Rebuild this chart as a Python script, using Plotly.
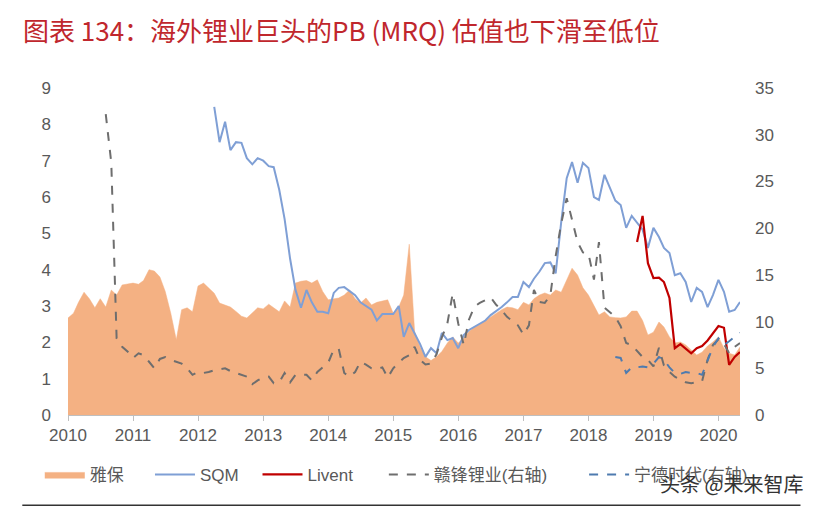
import pandas as pd
import plotly.graph_objects as go

# ---- data (monthly, PB MRQ) ----
months = pd.date_range("2010-01-01", periods=125, freq="MS")

albemarle = [2.67, 2.8, 3.1, 3.38, 3.2, 2.95, 3.2, 2.97, 3.44, 3.3, 3.58, 3.6,
             3.63, 3.6, 3.7, 4.0, 3.96, 3.8, 3.4, 2.8, 2.07, 2.9, 2.95, 2.84,
             3.55, 3.63, 3.5, 3.35, 3.08, 3.02, 2.97, 2.85, 2.72, 2.67, 2.8, 2.95,
             2.92, 3.05, 2.95, 2.84, 3.14, 2.97, 3.63, 3.68, 3.7, 3.63, 3.72, 3.4,
             3.17, 3.2, 3.22, 3.3, 3.44, 3.2, 3.08, 3.22, 3.03, 3.1, 3.14, 3.17,
             2.8, 2.97, 3.3, 4.7, 2.3, 1.87, 1.6, 1.5, 1.6, 1.75, 1.98, 2.15,
             1.98, 2.12, 2.3, 2.42, 2.5, 2.6, 2.7, 2.8, 2.9, 2.97, 2.95, 2.9,
             3.1, 3.03, 3.2, 3.3, 3.36, 3.3, 3.44, 3.38, 3.7, 4.04, 3.85, 3.5,
             3.3, 3.03, 2.75, 2.84, 2.7, 2.68, 2.67, 2.7, 2.86, 2.86, 2.6, 2.2,
             2.28, 2.56, 2.42, 2.15, 1.98, 2.01, 1.93, 1.79, 1.65, 1.73, 1.9, 2.01,
             2.15, 1.84, 1.7, 1.65, 1.87]

sqm_start = 27
sqm = [8.48, 7.51, 8.07, 7.29, 7.51, 7.49, 7.07, 6.9, 7.07,
       7.0, 6.85, 6.82, 6.2, 5.4, 4.3, 3.45, 2.95, 3.44, 3.1, 2.84, 2.84,
       2.8, 3.36, 3.5, 3.52, 3.42, 3.3, 3.1, 3.0, 2.9, 2.6, 2.78, 2.78,
       2.78, 3.0, 2.15, 2.53, 2.25, 1.95, 1.6, 1.84, 1.7, 2.26, 2.06, 2.12,
       1.84, 2.2, 2.34, 2.42, 2.5, 2.6, 2.75, 2.85, 2.97, 3.1, 3.25, 3.25,
       3.66, 3.52, 3.75, 3.95, 4.18, 4.2, 3.9, 5.3, 6.52, 6.96, 6.39, 6.94,
       6.8, 6.0, 5.92, 6.61, 6.25, 5.9, 5.78, 5.15, 5.48, 5.28, 5.1, 4.6,
       5.15, 4.9, 4.6, 4.46, 3.85, 3.9, 3.66, 3.11, 3.5, 3.39, 2.97, 3.3,
       3.72, 3.39, 2.84, 2.89, 3.11]

livent_start = 105
livent = [4.76, 5.48, 4.18,
          3.77, 3.78, 3.66, 3.22, 1.84, 1.95, 1.82, 1.7, 1.84, 1.9, 2.05, 2.25,
          2.45, 2.4, 1.38, 1.6, 1.73]

ganfeng_start = 7
ganfeng = [32.2, 27.0, 8.2, 7.3, 6.8,
           6.1, 6.6, 6.4, 5.7, 5.0, 6.0, 6.2, 5.9, 5.7, 5.5, 5.0, 4.3,
           4.6, 4.5, 4.6, 4.8, 4.9, 5.0, 4.7, 4.5, 4.3, 4.1, 3.3, 3.7,
           4.0, 4.1, 3.4, 3.5, 4.5, 3.5, 4.3, 4.3, 4.3, 3.7, 4.6, 5.1,
           5.6, 7.0, 7.1, 4.5, 4.1, 4.6, 5.7, 5.4, 5.0, 4.9, 5.1, 4.0,
           5.0, 5.6, 6.1, 6.4, 7.3, 5.9, 5.4, 5.5, 6.5, 8.3, 9.8, 13.0,
           9.8, 7.5, 10.2, 11.6, 12.0, 12.3, 12.6, 11.8, 11.2, 10.5, 10.0, 9.6,
           8.6, 9.6, 13.4, 12.1, 12.0, 12.8, 17.0, 20.5, 23.2, 21.0, 18.5, 17.4,
           17.3, 14.5, 18.5, 11.5, 11.0, 10.5, 9.5, 7.7, 7.5, 6.8, 6.2, 5.9,
           5.2, 7.2, 5.3, 4.6, 4.1, 3.8, 3.5, 3.4, 3.5, 3.6, 5.9, 7.5,
           8.1, 7.6, 6.6, 7.3, 7.7]

catl_start = 101
catl = [6.2, 6.1, 4.5, 5.1, 5.1, 5.2, 5.1,
        5.5, 6.2, 5.9, 5.1, 4.5, 4.4, 4.6, 4.5, 4.5, 4.3, 5.8, 7.3,
        8.2, 7.5, 7.9, 8.4, 8.8]

names = ["雅保", "SQM", "Livent", "赣锋锂业(右轴)", "宁德时代(右轴)"]
title_text = "图表 134：海外锂业巨头的PB (MRQ) 估值也下滑至低位"
watermark = "头条 @未来智库"

fig = go.Figure()
fig.add_trace(go.Scatter(x=months, y=albemarle, name=names[0], mode="lines",
                         fill="tozeroy", fillcolor="#F4B183", legend="legend",
                         line=dict(color="#F4B183", width=0.5)))
fig.add_trace(go.Scatter(x=months[sqm_start:sqm_start + len(sqm)], y=sqm, name=names[1],
                         mode="lines", legend="legend2",
                         line=dict(color="#7F9FD5", width=2)))
fig.add_trace(go.Scatter(x=months[livent_start:livent_start + len(livent)], y=livent,
                         name=names[2], mode="lines", legend="legend3",
                         line=dict(color="#C00000", width=2.2)))
fig.add_trace(go.Scatter(x=months[ganfeng_start:ganfeng_start + len(ganfeng)], y=ganfeng,
                         name=names[3], mode="lines", yaxis="y2", legend="legend4",
                         line=dict(color="#6E6E6E", width=2, dash="dash")))
fig.add_trace(go.Scatter(x=months[catl_start:catl_start + len(catl)], y=catl,
                         name=names[4], mode="lines", yaxis="y2", legend="legend5",
                         line=dict(color="#4E7BAF", width=2, dash="dash")))

tick_font = dict(family="Liberation Sans, Arial, sans-serif", size=17, color="#595959")
leg_font = dict(family="Liberation Sans, Noto Sans CJK SC, sans-serif", size=17, color="#595959")


def leg(x):
    return dict(orientation="h", x=x, xanchor="left", y=-0.183, yanchor="middle",
                font=leg_font, bgcolor="rgba(0,0,0,0)", itemwidth=40)


fig.update_layout(
    width=817, height=507,
    paper_bgcolor="white", plot_bgcolor="white",
    margin=dict(l=68, r=77, t=88, b=92),
    showlegend=True,
    legend=leg(-0.042), legend2=leg(0.122), legend3=leg(0.282),
    legend4=leg(0.47), legend5=leg(0.768),
    xaxis=dict(type="date", range=["2010-01-01", "2020-05-01"],
               dtick="M12", tick0="2010-01-01", tickformat="%Y",
               showgrid=False, showline=True, linecolor="#BFBFBF", linewidth=1,
               ticks="outside", ticklen=5, tickcolor="#BFBFBF",
               tickfont=tick_font, zeroline=False, automargin=False),
    yaxis=dict(range=[0, 9], dtick=1, showgrid=False, zeroline=False,
               showline=False, tickfont=tick_font, ticks="", ticklabelstandoff=16,
               automargin=False),
    yaxis2=dict(range=[0, 35], dtick=5, overlaying="y", side="right",
                showgrid=False, zeroline=False, showline=False,
                tickfont=tick_font, ticklabelstandoff=14, automargin=False),
    annotations=[
        dict(text=title_text, xref="paper", yref="paper", x=-0.07, y=1.0,
             xanchor="left", yanchor="bottom", yshift=38, showarrow=False,
             font=dict(family="Noto Sans CJK SC, sans-serif", size=26, color="#C0272D")),
        dict(text=watermark, xref="paper", yref="paper", x=1.097, y=-0.21,
             xanchor="right", yanchor="middle", showarrow=False,
             font=dict(family="Noto Sans CJK SC, sans-serif", size=20, color="#333333")),
    ],
    shapes=[
        dict(type="line", xref="paper", yref="paper", x0=-0.068, x1=1.09,
             y0=-0.276, y1=-0.276, line=dict(color="#333333", width=1.5)),
    ],
)

fig.write_html("out.html", config={"displayModeBar": False},
               post_script="document.body.style.margin='0';")
